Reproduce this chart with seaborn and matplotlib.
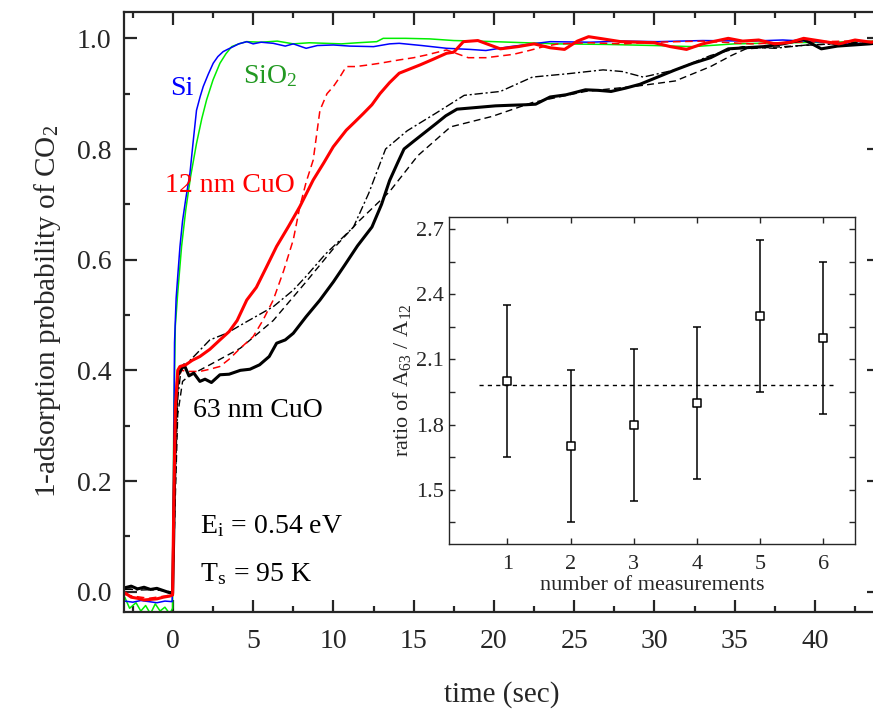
import numpy as np
import pandas as pd
import matplotlib
matplotlib.use("Agg")
import matplotlib.pyplot as plt
from matplotlib.ticker import MultipleLocator
import seaborn as sns

# ---------------- main panel: uptake transients ----------------
si_t = [-3.0, -2.5, -2.0, -1.5, -1.0, -0.5, -0.05, 0.0, 0.1, 0.2, 0.3, 0.44, 0.6, 0.8, 1.06, 1.25,
        1.47, 1.7, 1.89, 2.2, 2.51, 2.8, 3.13, 3.4, 3.76, 4.1, 4.6, 5.0, 5.5, 6.25, 7.0, 7.5, 8.3,
        9.0, 10.0, 11.0, 12.5, 13.5, 14.1, 15.5, 17.05, 18.5, 19.5, 21.0, 23.5, 26.0, 28.0, 30.2,
        33.0, 36.0, 38.0, 40.0, 42.0, 44.0]
si_y = [-0.017, -0.019, -0.016, -0.018, -0.020, -0.017, -0.018, 0.05, 0.45, 0.53, 0.57, 0.624,
        0.67, 0.71, 0.756, 0.81, 0.87, 0.895, 0.913, 0.935, 0.955, 0.967, 0.976, 0.98, 0.985,
        0.99, 0.994, 0.99, 0.993, 0.991, 0.986, 0.99, 0.982, 0.987, 0.988, 0.986, 0.985, 0.99,
        0.991, 0.987, 0.982, 0.98, 0.978, 0.985, 0.994, 0.993, 0.995, 0.994, 0.996, 0.995,
        0.997, 0.994, 0.99, 0.992]

sio2_t = [-3.0, -2.7, -2.3, -2.0, -1.7, -1.4, -1.1, -0.8, -0.5, -0.2, -0.02, 0.05, 0.15, 0.3,
          0.54, 0.8, 1.1, 1.47, 1.8, 2.1, 2.5, 2.93, 3.3, 3.66, 4.1, 4.6, 5.5, 6.5, 7.5, 8.5,
          9.5, 10.5, 11.5, 12.7, 13.1, 14.5, 16.0, 17.5, 19.0, 21.0, 24.0, 27.0, 30.0, 32.4,
          35.0, 38.0, 41.0, 44.0]
sio2_y = [-0.01, -0.03, -0.02, -0.035, -0.025, -0.04, -0.022, -0.035, -0.028, -0.04, -0.03,
          0.30, 0.48, 0.54, 0.624, 0.69, 0.75, 0.81, 0.855, 0.889, 0.925, 0.955, 0.972, 0.985,
          0.99, 0.994, 0.993, 0.995, 0.99, 0.992, 0.991, 0.99, 0.992, 0.994, 1.0, 1.0, 0.999,
          0.996, 0.995, 0.993, 0.99, 0.989, 0.987, 0.985, 0.99, 0.992, 0.993, 0.995]

cuo12_t = [-3.0, -2.6, -2.2, -1.8, -1.4, -1.0, -0.6, -0.2, -0.02, 0.05, 0.15, 0.3, 0.44, 0.8,
           1.2, 1.68, 2.3, 2.93, 3.5, 4.0, 4.6, 5.2, 5.8, 6.46, 7.2, 7.91, 8.74, 9.4, 9.99,
           10.8, 11.3, 11.86, 12.4, 12.9, 13.5, 14.1, 15.4, 16.2, 17.05, 17.5, 18.1, 19.0,
           20.4, 21.5, 22.5, 23.5, 24.4, 25.2, 25.9, 26.8, 27.9, 29.0, 30.0, 31.0, 32.0, 33.0,
           34.6, 35.5, 36.5, 37.5, 38.5, 39.3, 40.4, 41.5, 42.5, 43.5, 44.0]
cuo12_y = [-0.002, -0.010, -0.012, -0.015, -0.014, -0.013, -0.010, -0.008, -0.006, 0.15, 0.33,
           0.40, 0.407, 0.41, 0.418, 0.425, 0.438, 0.455, 0.47, 0.49, 0.527, 0.55, 0.585,
           0.624, 0.66, 0.696, 0.744, 0.775, 0.804, 0.834, 0.848, 0.864, 0.88, 0.90, 0.92,
           0.937, 0.952, 0.962, 0.973, 0.975, 0.994, 0.996, 0.981, 0.985, 0.99, 0.983, 0.98,
           0.995, 1.003, 0.999, 0.994, 0.993, 0.992, 0.985, 0.98, 0.99, 1.0, 0.995, 0.997,
           0.99, 0.993, 1.0, 0.995, 0.99, 0.997, 0.993, 0.995]

cuo12b_t = [-3.0, -2.5, -2.0, -1.5, -1.0, -0.5, -0.02, 0.05, 0.15, 0.3, 0.5, 1.0, 1.68, 2.3,
            2.93, 3.5, 4.2, 5.0, 5.6, 6.25, 6.9, 7.5, 7.91, 8.3, 8.74, 9.16, 9.6, 10.0, 10.4,
            10.8, 11.4, 12.2, 12.9, 14.1, 15.0, 15.8, 17.05, 18.4, 19.5, 21.2, 22.2, 23.1,
            24.0, 26.0, 28.0, 30.0, 33.0, 36.0, 39.0, 42.0, 44.0]
cuo12b_y = [-0.005, -0.008, -0.010, -0.012, -0.010, -0.008, -0.005, 0.12, 0.30, 0.38, 0.40,
            0.398, 0.398, 0.402, 0.407, 0.42, 0.44, 0.461, 0.49, 0.527, 0.58, 0.636, 0.696,
            0.74, 0.78, 0.87, 0.90, 0.913, 0.93, 0.949, 0.949, 0.952, 0.955, 0.961, 0.965,
            0.97, 0.979, 0.965, 0.965, 0.971, 0.978, 0.985, 0.99, 0.992, 0.99, 0.993, 0.995,
            0.99, 0.993, 0.995, 0.994]

cuo63_t = [-3.0, -2.6, -2.2, -1.8, -1.4, -1.0, -0.6, -0.2, -0.02, 0.05, 0.15, 0.3, 0.44, 0.7,
           1.0, 1.3, 1.68, 2.0, 2.4, 2.93, 3.5, 4.2, 4.8, 5.4, 6.0, 6.46, 7.0, 7.5, 8.3, 9.16,
           10.0, 10.7, 11.5, 12.4, 13.0, 13.5, 14.0, 14.4, 15.0, 15.7, 16.4, 17.0, 17.7, 18.5,
           19.3, 20.1, 21.0, 22.0, 22.6, 23.5, 24.5, 25.7, 26.5, 27.3, 28.2, 29.1, 30.2, 31.3,
           32.4, 33.5, 34.6, 35.7, 36.8, 38.0, 39.3, 40.4, 41.4, 42.4, 43.4, 44.0]
cuo63_y = [0.007, 0.010, 0.005, 0.008, 0.004, 0.006, 0.002, -0.002, -0.003, 0.10, 0.30, 0.39,
           0.398, 0.41, 0.39, 0.395, 0.38, 0.384, 0.378, 0.392, 0.393, 0.40, 0.402, 0.41,
           0.425, 0.449, 0.455, 0.467, 0.497, 0.527, 0.56, 0.59, 0.625, 0.659, 0.70, 0.743,
           0.775, 0.80, 0.814, 0.83, 0.846, 0.86, 0.872, 0.874, 0.876, 0.878, 0.879, 0.88,
           0.881, 0.894, 0.898, 0.907, 0.906, 0.904, 0.91, 0.917, 0.93, 0.943, 0.955, 0.965,
           0.981, 0.983, 0.985, 0.99, 0.998, 0.981, 0.986, 0.988, 0.99, 0.992]

cuo63b_t = [-3.0, -2.0, -1.0, -0.2, -0.02, 0.1, 0.3, 0.5, 0.8, 1.47, 2.3, 3.35, 4.6, 6.25,
            7.5, 8.3, 9.5, 10.4, 11.25, 12.2, 13.25, 14.6, 16.4, 18.15, 20.4, 22.4, 24.6,
            26.8, 28.0, 29.3, 31.3, 33.5, 35.5, 37.5, 39.5, 41.5, 44.0]
cuo63b_y = [0.005, 0.003, 0.004, 0.0, 0.0, 0.15, 0.35, 0.40, 0.41, 0.43, 0.455, 0.467, 0.488,
            0.515, 0.545, 0.57, 0.61, 0.635, 0.659, 0.72, 0.80, 0.833, 0.865, 0.897, 0.904,
            0.93, 0.936, 0.943, 0.94, 0.93, 0.943, 0.969, 0.985, 0.982, 0.988, 0.99, 0.992]

cuo63c_t = [-3.0, -2.0, -1.0, -0.2, -0.02, 0.1, 0.3, 0.6, 1.0, 2.3, 4.2, 6.25, 8.3, 10.0,
            11.6, 13.5, 15.26, 17.3, 19.9, 22.4, 25.7, 29.0, 31.3, 33.5, 34.8, 35.7, 38.0,
            41.0, 44.0]
cuo63c_y = [0.004, 0.006, 0.003, 0.0, 0.0, 0.12, 0.32, 0.38, 0.39, 0.41, 0.44, 0.49, 0.56,
            0.62, 0.67, 0.723, 0.788, 0.84, 0.859, 0.884, 0.904, 0.914, 0.923, 0.949, 0.969,
            0.981, 0.985, 0.99, 0.995]

# ---------------- inset: A63 / A12 ratio ----------------
meas_no = [1, 2, 3, 4, 5, 6]
ratio = [2.0, 1.7, 1.8, 1.9, 2.3, 2.2]
ratio_err = [0.35, 0.35, 0.35, 0.35, 0.35, 0.35]

sns.set_style("ticks")
plt.rcParams["font.family"] = ["Liberation Serif", "DejaVu Serif"]
plt.rcParams["mathtext.fontset"] = "stix"

fig = plt.figure(figsize=(8.73, 7.09), dpi=100)
ax = fig.add_axes([0.142, 0.137, 0.865, 0.846])

curves = [
    (sio2_t, sio2_y, "#00ee00", "-", 1.1),
    (si_t, si_y, "#0000ff", "-", 1.1),
    (cuo63c_t, cuo63c_y, "black", (0, (5, 3)), 1.0),
    (cuo63b_t, cuo63b_y, "black", (0, (6, 2, 1.5, 2)), 1.0),
    (cuo12b_t, cuo12b_y, "#ff0000", (0, (5, 3)), 1.1),
    (cuo63_t, cuo63_y, "black", "-", 2.2),
    (cuo12_t, cuo12_y, "#ff0000", "-", 2.2),
]
for t, y, c, ls, lw in curves:
    sns.lineplot(x=t, y=y, ax=ax, color=c, linestyle=ls, linewidth=lw,
                 sort=False, estimator=None)

ax.set_xlim(-3.05, 44.0)
ax.set_ylim(-0.0365, 1.0475)
ax.xaxis.set_major_locator(MultipleLocator(5))
ax.xaxis.set_minor_locator(MultipleLocator(2.5))
ax.yaxis.set_major_locator(MultipleLocator(0.2))
ax.yaxis.set_minor_locator(MultipleLocator(0.1))
ax.yaxis.set_major_formatter(matplotlib.ticker.FormatStrFormatter("%.1f"))
ax.tick_params(which="both", direction="in", top=True, right=True, width=1.6,
               labelsize=20, pad=9)
ax.tick_params(axis="x", which="both", pad=12)
ax.tick_params(which="major", length=9)
ax.tick_params(which="minor", length=4.5)
for s in ax.spines.values():
    s.set_linewidth(1.6)
ax.set_xlabel("time (sec)", fontsize=21, labelpad=20)
ax.set_ylabel("1-adsorption probability of CO$_{\\mathregular{2}}$", fontsize=21, labelpad=10)

ax.text(-0.19, 0.898, "Si", color="#0000ff", fontsize=20)
ax.text(4.36, 0.919, "SiO$_{\\mathregular{2}}$", color="#229922", fontsize=20)
ax.text(-0.5, 0.723, "12 nm CuO", color="#ff0000", fontsize=20)
ax.text(1.25, 0.316, "63 nm CuO", color="black", fontsize=20)
ax.text(1.68, 0.106, "E$_{\\mathregular{i}}$ = 0.54 eV", color="black", fontsize=20)
ax.text(1.68, 0.018, "T$_{\\mathregular{s}}$ = 95 K", color="black", fontsize=20)

# inset
axi = fig.add_axes([0.5147, 0.2327, 0.4647, 0.4617])
axi.errorbar(meas_no, ratio, yerr=ratio_err, fmt="none", ecolor="black",
             elinewidth=1.1, capsize=3, capthick=1.1, zorder=2)
sns.scatterplot(x=meas_no, y=ratio, ax=axi, marker="s", s=28, facecolor="white",
                edgecolor="black", linewidth=1.1, zorder=3)
mean_ratio = float(np.mean(ratio))
axi.hlines(mean_ratio, 0.55, 6.15, colors="black", linestyles=(0, (3, 3)), linewidth=1.0)
axi.set_xlim(0.08, 6.5)
axi.set_ylim(1.25, 2.757)
axi.xaxis.set_major_locator(MultipleLocator(1))
axi.yaxis.set_major_locator(MultipleLocator(0.3))
axi.yaxis.set_minor_locator(MultipleLocator(0.15))
axi.yaxis.set_major_formatter(matplotlib.ticker.FormatStrFormatter("%.1f"))
axi.tick_params(which="both", direction="in", top=True, right=True, width=1.0,
                labelsize=16, pad=4)
axi.tick_params(axis="x", which="both", pad=8)
axi.tick_params(which="major", length=4)
axi.tick_params(which="minor", length=4)
for s in axi.spines.values():
    s.set_linewidth(1.0)
axi.set_xlabel("number of measurements", fontsize=16, labelpad=1)
axi.set_ylabel("ratio of A$_{\\mathregular{63}}$ / A$_{\\mathregular{12}}$", fontsize=16,
               labelpad=2)

fig.savefig("out.png", dpi=100)
